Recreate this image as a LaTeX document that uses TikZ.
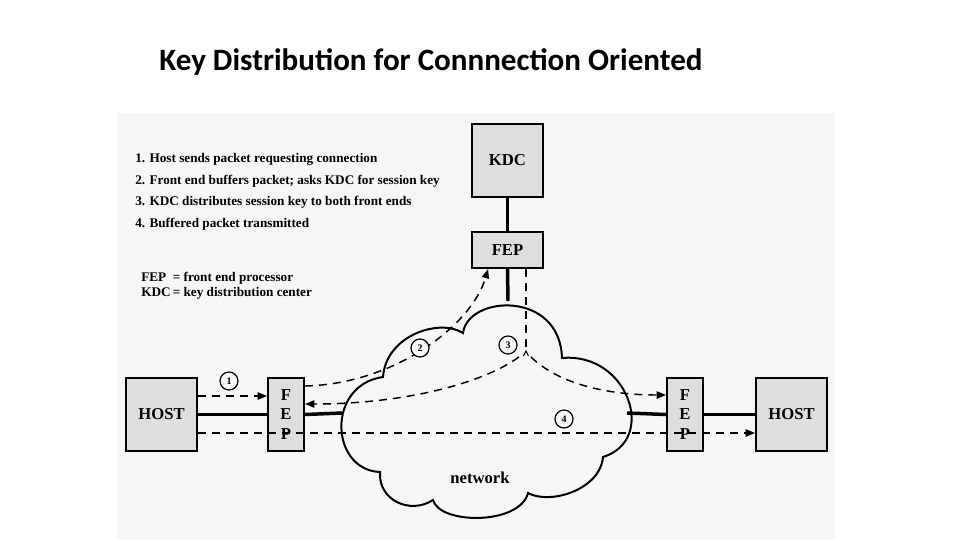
\documentclass[tikz,border=0pt]{standalone}
\usepackage{fontspec}
\setmainfont{Liberation Serif}
\newfontfamily\titlefont{Carlito}
\usetikzlibrary{arrows.meta}
\definecolor{panel}{HTML}{F6F6F6}
\definecolor{boxfill}{HTML}{DEDEDE}
\tikzset{
  box/.style={draw=black, line width=1.5pt, fill=boxfill, inner sep=0pt,
    font=\fontsize{12.5}{14}\selectfont\bfseries},
  bigbox/.style={box, minimum width=71*0.75pt, minimum height=73*0.75pt},
  fepbox/.style={box, minimum width=36*0.75pt, minimum height=73*0.75pt},
  topfep/.style={box, minimum width=71*0.75pt, minimum height=36*0.75pt},
  thick line/.style={line width=2.6pt},
  dashline/.style={line width=1.1pt, dash pattern=on 6pt off 4.5pt},
  tip/.style={-{Triangle[length=7pt,width=5.5pt]}},
  legend/.style={anchor=west, inner sep=0pt, font=\fontsize{9.9}{11}\selectfont\bfseries},
  num/.style={draw, circle, line width=0.9pt, fill=panel, inner sep=0pt,
    minimum size=13.5pt, font=\fontsize{7.5}{8}\selectfont\bfseries},
}
\begin{document}
\begin{tikzpicture}[x=0.75pt,y=-0.75pt]
\useasboundingbox (0,0) rectangle (960,540);
\fill[white] (0,0) rectangle (960,540);
\fill[panel] (117,113) rectangle (835,540);

\node[font=\titlefont\bfseries\fontsize{23.3}{27}\selectfont] (title) at (431,62) {Key Distribution for Connnection Oriented};

% legend
\node[legend] (l1) at (135,159) {1. Host sends packet requesting connection};
\node[legend] (l2) at (135,181) {2. Front end buffers packet; asks KDC for session key};
\node[legend] (l3) at (135,202) {3. KDC distributes session key to both front ends};
\node[legend] (l4) at (135,224) {4. Buffered packet transmitted};
\node[legend] (l5) at (141,278) {FEP\ \ = front end processor};
\node[legend] (l6) at (141,293) {KDC\,= key distribution center};

% cloud
\draw[line width=1.5pt, fill=panel]
  (383,377) .. controls (386,335) and (440,318) .. (463,333)
  .. controls (468,295) and (560,290) .. (562,358)
  .. controls (628,352) and (658,440) .. (603,457)
  .. controls (600,490) and (550,505) .. (528,493)
  .. controls (520,525) and (440,525) .. (433,500)
  .. controls (410,515) and (378,500) .. (380,472)
  .. controls (330,470) and (326,385) .. cycle;
\node[font=\fontsize{12.5}{14}\selectfont\bfseries] (net) at (480,478) {network};
\coordinate (cloudL) at (342,413);
\coordinate (cloudR) at (627,413);
\coordinate (cloudT) at (508,301);

% boxes
\node[bigbox] (kdc) at (507.5,160.5) {KDC};
\node[topfep] (fep0) at (507.5,250) {FEP};
\node[bigbox] (hostL) at (161.5,414.5) {HOST};
\node[bigbox] (hostR) at (791.5,414.5) {HOST};
\node[fepbox] (fepL) at (286,414.5) {};
\node[fepbox] (fepR) at (685,414.5) {};
\foreach \f in {fepL,fepR}{
  \node[font=\fontsize{12.5}{14}\selectfont\bfseries, inner sep=0pt] (\f F) at ([yshift=14.5pt]\f.center) {F};
  \node[font=\fontsize{12.5}{14}\selectfont\bfseries, inner sep=0pt] (\f E) at (\f.center) {E};
  \node[font=\fontsize{12.5}{14}\selectfont\bfseries, inner sep=0pt] (\f P) at ([yshift=-15pt]\f.center) {P};
}

% thick links
\draw[thick line] (kdc.south) -- (fep0.north);
\draw[thick line] (fep0.south) -- (cloudT);
\draw[thick line] (hostL.east) -- (fepL.west);
\draw[thick line] (fepL.east) -- (cloudL);
\draw[thick line] (cloudR) -- (fepR.west);
\draw[thick line] (fepR.east) -- (hostR.west);

% dashed flows
\coordinate (j) at (526,351);
\coordinate (jl) at (519,357);
\coordinate (jr) at (531,357);
\draw[dashline, tip] (hostL.east |- 0,396) -- (fepL.west |- 0,396);
\draw[dashline, tip] (fepL.east |- 0,386) .. controls (395,384) and (472,325) .. (fep0.south -| 488,0);
\draw[dashline] (fep0.south -| 526,0) -- (j);
\draw[line width=0.8pt] (523.5,356) -- (j) -- (528.5,356);
\draw[dashline, tip] (jl) .. controls (480,385) and (400,404) .. (fepL.east |- 0,404);
\draw[dashline, tip] (jr) .. controls (560,385) and (610,395) .. (fepR.west |- 0,395);
\draw[dashline, tip] (hostL.east |- 0,433) -- (hostR.west |- 0,433);

% step numbers
\node[num] (n1) at (229,381) {1};
\node[num] (n2) at (420,348) {2};
\node[num] (n3) at (508,345) {3};
\node[num] (n4) at (564,419) {4};
\end{tikzpicture}
\end{document}
